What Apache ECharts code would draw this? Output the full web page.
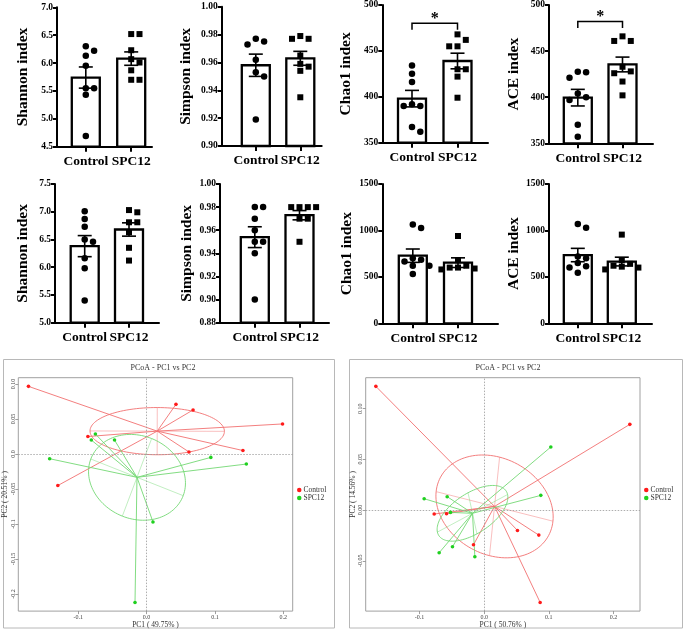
<!DOCTYPE html>
<html><head><meta charset="utf-8">
<script src="https://cdn.jsdelivr.net/npm/echarts@6/dist/echarts.min.js"></script>
<style>html,body{margin:0;padding:0;background:#fff}#c{width:685px;height:630px}</style>
</head><body><div id="c"></div>
<script>
// ================= DATA =================
const groups = ['Control', 'SPC12'];

// --- alpha diversity, top row ---
const shannonTop_ticks = [4.5, 5.0, 5.5, 6.0, 6.5, 7.0];
const shannonTop_ctrl = [6.30, 6.22, 6.13, 5.95, 5.55, 5.55, 5.43, 4.69];
const shannonTop_spc  = [6.52, 6.52, 6.23, 6.07, 6.01, 5.87, 5.70, 5.70];
const shannonTop_mean = [5.74, 6.08];
const shannonTop_sem  = [0.19, 0.12];

const simpsonTop_ticks = [0.90, 0.92, 0.94, 0.96, 0.98, 1.00];
const simpsonTop_ctrl = [0.977, 0.975, 0.973, 0.962, 0.953, 0.950, 0.919];
const simpsonTop_spc  = [0.979, 0.977, 0.977, 0.965, 0.959, 0.957, 0.954, 0.935];
const simpsonTop_mean = [0.958, 0.963];
const simpsonTop_sem  = [0.008, 0.005];

const chao1Top_ticks = [350, 400, 450, 500];
const chao1Top_ctrl = [434, 425, 416, 392, 390, 390, 367, 362];
const chao1Top_spc  = [468, 462, 455, 455, 430, 430, 422, 399];
const chao1Top_mean = [398, 439];
const chao1Top_sem  = [9, 8.5];
const chao1Top_sig  = [480, 473];

const aceTop_ticks = [350, 400, 450, 500];
const aceTop_ctrl = [427.7, 427, 421, 404, 400, 397, 370, 357];
const aceTop_spc  = [466, 461, 461, 433, 428, 426, 417, 402];
const aceTop_mean = [399.5, 435.5];
const aceTop_sem  = [9, 8];
const aceTop_sig  = [482, 475];

// --- alpha diversity, bottom row ---
const shannonBot_ticks = [5.0, 5.5, 6.0, 6.5, 7.0, 7.5];
const shannonBot_ctrl = [7.01, 6.87, 6.73, 6.50, 6.46, 6.16, 5.98, 5.40];
const shannonBot_spc  = [7.03, 6.99, 6.81, 6.81, 6.63, 6.35, 6.12];
const shannonBot_mean = [6.38, 6.68];
const shannonBot_sem  = [0.19, 0.12];

const simpsonBot_ticks = [0.88, 0.90, 0.92, 0.94, 0.96, 0.98, 1.00];
const simpsonBot_ctrl = [0.980, 0.980, 0.970, 0.960, 0.950, 0.950, 0.940, 0.900];
const simpsonBot_spc  = [0.980, 0.980, 0.980, 0.980, 0.970, 0.970, 0.950];
const simpsonBot_mean = [0.954, 0.973];
const simpsonBot_sem  = [0.009, 0.004];

const chao1Bot_ticks = [0, 500, 1000, 1500];
const chao1Bot_ctrl = [1065, 1025, 700, 685, 665, 620, 620, 530];
const chao1Bot_spc  = [940, 680, 620, 600, 600, 590, 580];
const chao1Bot_mean = [728, 653];
const chao1Bot_sem  = [72, 52];

const aceBot_ticks = [0, 500, 1000, 1500];
const aceBot_ctrl = [1070, 1030, 720, 700, 650, 615, 600, 545];
const aceBot_spc  = [955, 680, 640, 620, 610, 600, 580];
const aceBot_mean = [735, 665];
const aceBot_sem  = [72, 47];

// --- PCoA (left) ---
const pcoaA_ctrl_pc1 = [-0.173, 0.043, 0.068, 0.199, -0.086, 0.062, 0.141, -0.130];
const pcoaA_ctrl_pc2 = [0.0967, 0.071, 0.063, 0.043, 0.025, 0.003, 0.005, -0.045];
const pcoaA_spc_pc1  = [-0.142, -0.075, -0.081, -0.047, 0.094, 0.146, 0.0093, -0.017];
const pcoaA_spc_pc2  = [-0.0067, 0.0286, 0.020, 0.020, -0.0048, -0.0143, -0.097, -0.212];
const pcoaA_xticks = [-0.1, 0.0, 0.1, 0.2];
const pcoaA_xlabels = ['-0.1', '0.0', '0.1', '0.2'];
const pcoaA_yticks = [0.10, 0.05, 0.0, -0.05, -0.1, -0.15, -0.2];
const pcoaA_ylabels = ['0.10', '0.05', '0.0', '-0.05', '-0.1', '-0.15', '-0.2'];
const pcoaA_xname = 'PC1 ( 49.75% )';
const pcoaA_yname = 'PC2 ( 20.51% )';

// --- PCoA (right) ---
const pcoaB_ctrl_pc1 = [-0.1675, 0.2253, -0.0773, -0.0582, -0.0165, 0.0515, 0.0845, 0.0866];
const pcoaB_ctrl_pc2 = [0.1220, 0.0845, -0.0039, -0.0036, -0.0342, -0.0201, -0.0247, -0.0911];
const pcoaB_spc_pc1  = [0.1031, 0.0876, -0.0928, -0.0572, -0.0521, -0.0490, -0.0696, -0.0144];
const pcoaB_spc_pc2  = [0.0622, 0.0145, 0.0112, 0.0132, -0.0023, -0.0362, -0.0421, -0.0461];
const pcoaB_xticks = [-0.1, 0.0, 0.1, 0.2];
const pcoaB_xlabels = ['-0.1', '0.0', '0.1', '0.2'];
const pcoaB_yticks = [0.10, 0.05, 0.0, -0.05];
const pcoaB_ylabels = ['0.10', '0.05', '0.00', '-0.05'];
const pcoaB_xname = 'PC1 ( 50.76% )';
const pcoaB_yname = 'PC2 ( 14.56% )';
const pcoaTitle = 'PCoA - PC1 vs PC2';

// ================= LAYOUT / STYLE =================
const SERIF = '"Liberation Serif","Times New Roman",serif';
const barPanels = [
  {name:'Shannon index', ticks:shannonTop_ticks, dec:1, ctrl:shannonTop_ctrl, spc:shannonTop_spc, mean:shannonTop_mean, sem:shannonTop_sem, sig:null,
   box:[57,7.3,152,146.7], centers:[85.8,131.2], nameGap:26.5},
  {name:'Simpson index', ticks:simpsonTop_ticks, dec:2, ctrl:simpsonTop_ctrl, spc:simpsonTop_spc, mean:simpsonTop_mean, sem:simpsonTop_sem, sig:null,
   box:[221.7,6.8,321.7,146], centers:[255.8,300.3], nameGap:27.5},
  {name:'Chao1 index', ticks:chao1Top_ticks, dec:0, ctrl:chao1Top_ctrl, spc:chao1Top_spc, mean:chao1Top_mean, sem:chao1Top_sem, sig:chao1Top_sig,
   box:[382.3,4,488,142.7], centers:[412,457.5], nameGap:28},
  {name:'ACE index', ticks:aceTop_ticks, dec:0, ctrl:aceTop_ctrl, spc:aceTop_spc, mean:aceTop_mean, sem:aceTop_sem, sig:aceTop_sig,
   box:[549,5,653,143.3], centers:[577.8,622.5], nameGap:27.5},
  {name:'Shannon index', ticks:shannonBot_ticks, dec:1, ctrl:shannonBot_ctrl, spc:shannonBot_spc, mean:shannonBot_mean, sem:shannonBot_sem, sig:null,
   box:[55,184,159,322.7], centers:[84.7,129], nameGap:24},
  {name:'Simpson index', ticks:simpsonBot_ticks, dec:2, ctrl:simpsonBot_ctrl, spc:simpsonBot_spc, mean:simpsonBot_mean, sem:simpsonBot_sem, sig:null,
   box:[220,184,329,322.7], centers:[254.8,299.5], nameGap:16},
  {name:'Chao1 index', ticks:chao1Bot_ticks, dec:0, ctrl:chao1Bot_ctrl, spc:chao1Bot_spc, mean:chao1Bot_mean, sem:chao1Bot_sem, sig:null,
   box:[382.3,184,498,323.3], centers:[412.8,458], nameGap:25},
  {name:'ACE index', ticks:aceBot_ticks, dec:0, ctrl:aceBot_ctrl, spc:aceBot_spc, mean:aceBot_mean, sem:aceBot_sem, sig:null,
   box:[549,184,652,323.3], centers:[577.8,621.8], nameGap:23.5}
];

const RED = '#ff1a1a', GREEN = '#1fd01f';
const RED_LINE = '#f27070', GREEN_LINE = '#74d874';
const ELLIPSE_SCALE = 0.745;
const pcoaPanels = [
  {ctrl:[pcoaA_ctrl_pc1,pcoaA_ctrl_pc2], spc:[pcoaA_spc_pc1,pcoaA_spc_pc2], xt:pcoaA_xticks, xl:pcoaA_xlabels, yt:pcoaA_yticks, yl:pcoaA_ylabels,
   xname:pcoaA_xname, yname:pcoaA_yname, grid:[18.3,377.7,274.4,234], frame:[3.5,359.5,331,268.5], titleX:163, legend:[297,486]},
  {ctrl:[pcoaB_ctrl_pc1,pcoaB_ctrl_pc2], spc:[pcoaB_spc_pc1,pcoaB_spc_pc2], xt:pcoaB_xticks, xl:pcoaB_xlabels, yt:pcoaB_yticks, yl:pcoaB_ylabels,
   xname:pcoaB_xname, yname:pcoaB_yname, grid:[365.7,377.7,274.3,234], frame:[349.5,359.5,333,268.5], titleX:508, legend:[644,486]}
];

// ================= BUILD =================
const grids = [], xAxes = [], yAxes = [], series = [], graphics = [];

function swarm(vals, pxPerUnit, diam) {
  const order = vals.map((v, i) => i).sort((a, b) => vals[b] - vals[a]);
  const placed = [], ks = new Array(vals.length);
  for (const i of order) {
    for (const k of [0, 1, -1, 2, -2, 3, -3]) {
      if (!placed.some(p => p.k === k && Math.abs(p.v - vals[i]) * pxPerUnit < diam)) {
        ks[i] = k; placed.push({v: vals[i], k}); break;
      }
    }
  }
  return ks;
}

barPanels.forEach((p, gi) => {
  const [l, t, r, b] = p.box;
  const d = p.centers[1] - p.centers[0];
  const ymin = p.ticks[0], ymax = p.ticks[p.ticks.length - 1];
  const interval = p.ticks[1] - p.ticks[0];
  grids.push({left: l, top: t, width: r - l, height: b - t});
  xAxes.push({gridIndex: gi, type: 'value', min: (l - p.centers[0]) / d, max: (r - p.centers[0]) / d,
    splitLine: {show: false},
    axisLine: {show: true, onZero: false, lineStyle: {color: '#000', width: 2}},
    axisTick: {show: true, customValues: [0, 1], length: 5, lineStyle: {color: '#000', width: 2}},
    axisLabel: {show: true, customValues: [0, 1], formatter: v => groups[Math.round(v)], margin: 8,
      fontFamily: SERIF, fontWeight: 'bold', fontSize: 13.5, color: '#000'}});
  yAxes.push({gridIndex: gi, type: 'value', min: ymin, max: ymax, interval: interval,
    splitLine: {show: false},
    axisLine: {show: true, onZero: false, lineStyle: {color: '#000', width: 2}},
    axisTick: {show: true, length: 4, lineStyle: {color: '#000', width: 2}},
    axisLabel: {formatter: v => Number(v).toFixed(p.dec), margin: 4, fontFamily: SERIF, fontWeight: 'bold', fontSize: 9.5, color: '#000'},
    name: p.name, nameLocation: 'middle', nameGap: p.nameGap,
    nameTextStyle: {fontFamily: SERIF, fontWeight: 'bold', fontSize: 15.5, color: '#000'}});

  // bars + error bars
  series.push({type: 'custom', xAxisIndex: gi, yAxisIndex: gi, z: 2, silent: true,
    data: p.mean.map((m, i) => [i, m, p.sem[i]]),
    renderItem: (params, api) => {
      const x = api.value(0), m = api.value(1), s = api.value(2);
      const top = api.coord([x, m]), base = api.coord([x, ymin]);
      const hi = api.coord([x, m + s]), lo = api.coord([x, m - s]);
      const ls = {stroke: '#000', lineWidth: 1.6};
      return {type: 'group', children: [
        {type: 'rect', shape: {x: top[0] - 14, y: top[1], width: 28, height: base[1] - top[1]}, style: {fill: '#fff', stroke: '#000', lineWidth: 2.3}},
        {type: 'line', shape: {x1: hi[0], y1: hi[1], x2: lo[0], y2: lo[1]}, style: ls},
        {type: 'line', shape: {x1: hi[0] - 7, y1: hi[1], x2: hi[0] + 7, y2: hi[1]}, style: ls},
        {type: 'line', shape: {x1: lo[0] - 7, y1: lo[1], x2: lo[0] + 7, y2: lo[1]}, style: ls}
      ]};
    }});

  // dots
  const pxPerUnit = (b - t) / (ymax - ymin);
  const unit = 8.3 / d;
  [[p.ctrl, 'circle', 6.5, 0], [p.spc, 'rect', 6, 1]].forEach(([vals, sym, size, ci]) => {
    const ks = swarm(vals, pxPerUnit, 6.5);
    series.push({type: 'scatter', xAxisIndex: gi, yAxisIndex: gi, z: 3, silent: true,
      symbol: sym, symbolSize: size, itemStyle: {color: '#000', opacity: 1},
      data: vals.map((v, i) => [ci + ks[i] * unit, v])});
  });

  // significance bracket
  if (p.sig) {
    series.push({type: 'custom', xAxisIndex: gi, yAxisIndex: gi, z: 4, silent: true,
      data: [[0, 1, p.sig[0], p.sig[1]]],
      renderItem: (params, api) => {
        const a = api.coord([api.value(0), api.value(2)]), bb = api.coord([api.value(1), api.value(2)]);
        const a2 = api.coord([api.value(0), api.value(3)]), b2 = api.coord([api.value(1), api.value(3)]);
        return {type: 'group', children: [
          {type: 'polyline', shape: {points: [a2, a, bb, b2]}, style: {stroke: '#000', fill: null, lineWidth: 1.5}},
          {type: 'text', style: {text: '*', x: (a[0] + bb[0]) / 2, y: a[1] - 4.5, textAlign: 'center', textVerticalAlign: 'middle',
            font: 'bold 16px ' + SERIF, fill: '#000'}}
        ]};
      }});
  }
});

// ---- PCoA ----
function stats(xs, ys) {
  const n = xs.length;
  const mx = xs.reduce((a, b) => a + b, 0) / n, my = ys.reduce((a, b) => a + b, 0) / n;
  let sxx = 0, syy = 0, sxy = 0;
  for (let i = 0; i < n; i++) { const dx = xs[i] - mx, dy = ys[i] - my; sxx += dx * dx; syy += dy * dy; sxy += dx * dy; }
  sxx /= (n - 1); syy /= (n - 1); sxy /= (n - 1);
  const tr = (sxx + syy) / 2, disc = Math.sqrt(((sxx - syy) / 2) ** 2 + sxy * sxy);
  const l1 = tr + disc, l2 = Math.max(tr - disc, 0);
  let v1 = Math.abs(sxy) < 1e-12 ? (sxx >= syy ? [1, 0] : [0, 1]) : [sxy, l1 - sxx];
  const nv = Math.hypot(v1[0], v1[1]); v1 = [v1[0] / nv, v1[1] / nv];
  const v2 = [-v1[1], v1[0]];
  return {c: [mx, my], a: Math.sqrt(l1) * ELLIPSE_SCALE, b: Math.sqrt(l2) * ELLIPSE_SCALE, v1, v2};
}

function lookupLabel(ticks, labels) {
  return v => { const i = ticks.findIndex(t => Math.abs(t - v) < 1e-9); return i >= 0 ? labels[i] : ''; };
}

pcoaPanels.forEach((p, k) => {
  const gi = barPanels.length + k;
  const allX = p.ctrl[0].concat(p.spc[0]), allY = p.ctrl[1].concat(p.spc[1]);
  const xr = [Math.min(...allX), Math.max(...allX)], yr = [Math.min(...allY), Math.max(...allY)];
  const ex = (xr[1] - xr[0]) * 0.04, ey = (yr[1] - yr[0]) * 0.04;
  grids.push({left: p.grid[0], top: p.grid[1], width: p.grid[2], height: p.grid[3], show: true, borderColor: '#a0a0a0', borderWidth: 1});
  const labelStyle = {fontFamily: SERIF, fontSize: 6, color: '#444'};
  xAxes.push({gridIndex: gi, type: 'value', min: xr[0] - ex, max: xr[1] + ex, splitLine: {show: false},
    axisLine: {show: false, onZero: false},
    axisTick: {show: true, customValues: p.xt, length: 3, lineStyle: {color: '#888', width: 0.8}},
    axisLabel: {show: true, customValues: p.xt, formatter: lookupLabel(p.xt, p.xl), margin: 3, ...labelStyle},
    name: p.xname, nameLocation: 'middle', nameGap: 6.5, nameTextStyle: {fontFamily: SERIF, fontSize: 7.5, color: '#333'}});
  yAxes.push({gridIndex: gi, type: 'value', min: yr[0] - ey, max: yr[1] + ey, splitLine: {show: false},
    axisLine: {show: false, onZero: false},
    axisTick: {show: true, customValues: p.yt, length: 3, lineStyle: {color: '#888', width: 0.8}},
    axisLabel: {show: true, customValues: p.yt, formatter: lookupLabel(p.yt, p.yl), margin: 2, rotate: 90, ...labelStyle},
    name: p.yname, nameLocation: 'middle', nameGap: 9, nameTextStyle: {fontFamily: SERIF, fontSize: 7.5, color: '#333'}});

  [[p.ctrl, 'Control', RED, RED_LINE], [p.spc, 'SPC12', GREEN, GREEN_LINE]].forEach(([xy, nm, col, lcol], gidx) => {
    const st = stats(xy[0], xy[1]);
    const pts = xy[0].map((x, i) => [x, xy[1][i]]);
    // spider lines + ellipse with axes (one group per class)
    series.push({type: 'custom', xAxisIndex: gi, yAxisIndex: gi, z: 2, silent: true, data: [st.c],
      renderItem: (params, api) => {
        const cx = api.value(0), cy = api.value(1);
        const c = api.coord([cx, cy]);
        const children = [];
        const spider = {stroke: lcol, lineWidth: 0.9, fill: null, opacity: 1};
        pts.forEach(pt => {
          const a = api.coord(pt);
          children.push({type: 'polyline', shape: {points: [a, c]}, style: spider});
        });
        const ring = [];
        for (let j = 0; j <= 120; j++) {
          const th = j / 120 * Math.PI * 2;
          const u = st.a * Math.cos(th), w = st.b * Math.sin(th);
          ring.push(api.coord([cx + u * st.v1[0] + w * st.v2[0], cy + u * st.v1[1] + w * st.v2[1]]));
        }
        const e = (s, v) => [api.coord([cx + s * v[0], cy + s * v[1]]), api.coord([cx - s * v[0], cy - s * v[1]])];
        const m1 = e(st.a, st.v1), m2 = e(st.b, st.v2);
        const thin = {stroke: lcol, lineWidth: 0.6, opacity: 0.75, fill: null};
        children.push({type: 'polyline', shape: {points: ring}, style: {stroke: lcol, fill: null, lineWidth: 0.9}});
        children.push({type: 'polyline', shape: {points: m1}, style: thin});
        children.push({type: 'polyline', shape: {points: m2}, style: thin});
        return {type: 'group', children};
      }});
    // points
    const sc = {type: 'scatter', name: nm, xAxisIndex: gi, yAxisIndex: gi, z: 5, silent: true,
      symbol: 'circle', symbolSize: 3.6, itemStyle: {color: col, opacity: 1}, data: pts};
    if (gidx === 0) {
      sc.markLine = {silent: true, symbol: 'none', label: {show: false}, animation: false,
        lineStyle: {type: [1.5, 1.5], color: '#999', width: 0.8},
        data: [{xAxis: 0}, {yAxis: 0}]};
    }
    series.push(sc);
  });

  graphics.push({type: 'rect', shape: {x: p.frame[0], y: p.frame[1], width: p.frame[2], height: p.frame[3]},
    style: {fill: null, stroke: '#b8b8b8', lineWidth: 1}, silent: true});
  graphics.push({type: 'text', x: p.titleX, y: 368, silent: true,
    style: {text: pcoaTitle, font: '8px ' + SERIF, fill: '#333', textAlign: 'center', textVerticalAlign: 'middle'}});
});

const legends = pcoaPanels.map(p => ({left: p.legend[0], top: p.legend[1], orient: 'vertical', icon: 'circle',
  itemWidth: 4.5, itemHeight: 4.5, itemGap: 0, padding: 0, selectedMode: false,
  textStyle: {fontFamily: SERIF, fontSize: 7.5, color: '#333', padding: [0, 0, 0, -3]}, data: groups}));

const chart = echarts.init(document.getElementById('c'), null, {renderer: 'canvas'});
chart.setOption({animation: false, backgroundColor: '#fff', grid: grids, xAxis: xAxes, yAxis: yAxes,
  series, legend: legends, graphic: graphics});
</script></body></html>
